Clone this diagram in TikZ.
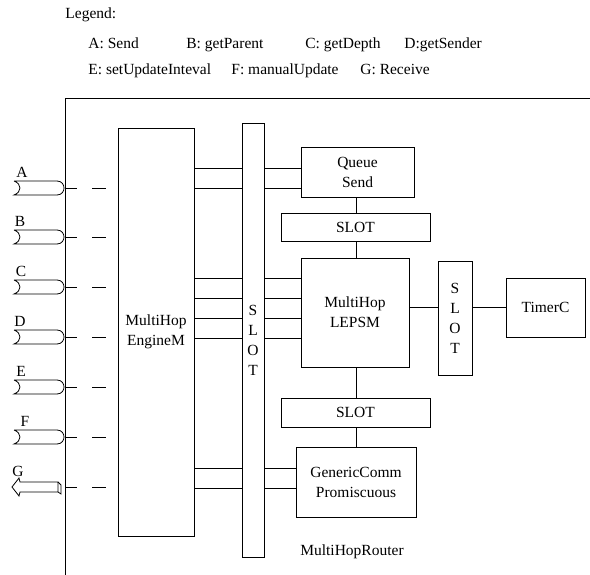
\documentclass[tikz,border=0pt]{standalone}
\usepackage{fontspec}
\setmainfont{Liberation Serif}
\begin{document}
\begin{tikzpicture}[x=1pt,y=-1pt,line width=0.8pt,
  txt/.style={font=\fontsize{15.5}{20}\selectfont, inner sep=0pt},
  box/.style={draw, txt, align=center, inner sep=0pt},
  lab/.style={txt, anchor=base west}]
\useasboundingbox (0,0) rectangle (590,575);
% legend
\node[lab] (leg) at (65,19) {Legend:};
\node[lab] (la) at (88,49) {A: Send};
\node[lab] (lb) at (186,49) {B: getParent};
\node[lab] (lc) at (305,49) {C: getDepth};
\node[lab] (ld) at (404,49) {D:getSender};
\node[lab] (le) at (88,75) {E: setUpdateInteval};
\node[lab] (lf) at (231,75) {F: manualUpdate};
\node[lab] (lg) at (360,75) {G: Receive};
% frame
\draw (65,575) -- (65,98) -- (590,98);
% boxes
\node[box, minimum width=76pt, minimum height=408pt] (eng) at (156,332) {MultiHop\\EngineM};
\node[box, minimum width=22pt, minimum height=434pt] (vslot) at (253,340) {S\\L\\O\\T};
\node[box, minimum width=113pt, minimum height=50pt] (qs) at (357.5,172) {Queue\\Send};
\node[box, minimum width=149pt, minimum height=28pt] (slot1) at (355.5,227) {SLOT};
\node[box, minimum width=108pt, minimum height=109pt] (lep) at (355,312.5) {MultiHop\\LEPSM};
\node[box, minimum width=149pt, minimum height=29pt] (slot2) at (355.5,412.5) {SLOT};
\node[box, minimum width=120pt, minimum height=70pt] (gc) at (356,482) {GenericComm\\Promiscuous};
\node[box, minimum width=34pt, minimum height=114pt] (vslot2) at (455,318) {S\\L\\O\\T};
\node[box, minimum width=79pt, minimum height=59pt] (timer) at (545.5,307.5) {TimerC};
\node[txt] (router) at (352,552) {MultiHopRouter};
% engine to slot links
\foreach \yy in {168,188,278,298,318,338,468,488}
  \draw (eng.east |- 0,\yy) -- (vslot.west |- 0,\yy);
\foreach \yy in {168,188}
  \draw (vslot.east |- 0,\yy) -- (qs.west |- 0,\yy);
\foreach \yy in {278,298,318,338}
  \draw (vslot.east |- 0,\yy) -- (lep.west |- 0,\yy);
\foreach \yy in {468,488}
  \draw (vslot.east |- 0,\yy) -- (gc.west |- 0,\yy);
% vertical links
\draw (356,0 |- qs.south) -- (356,0 |- slot1.north);
\draw (356,0 |- slot1.south) -- (356,0 |- lep.north);
\draw (356,0 |- lep.south) -- (356,0 |- slot2.north);
\draw (356,0 |- slot2.south) -- (356,0 |- gc.north);
\draw (lep.east |- 0,307) -- (vslot2.west |- 0,307);
\draw (vslot2.east |- 0,307) -- (timer.west |- 0,307);
% interfaces
\foreach \L/\yy/\lx in {A/188/22,B/237/20,C/287/21,D/337/20,E/387/21,F/437/25}{
  \draw (14,\yy-7) -- (57,\yy-7) .. controls (62,\yy-7) and (64,\yy-3) .. (64,\yy)
        .. controls (64,\yy+3) and (62,\yy+7) .. (57,\yy+7) -- (14,\yy+7)
        .. controls (22,\yy+4) and (22,\yy-4) .. (14,\yy-7);
  \node[txt] at (\lx,\yy-16) {\L};
  \draw (65,\yy) -- (77,\yy);
  \draw (92,\yy) -- (106,\yy);
}
% G receive arrow
\draw (58,482) -- (20,482) -- (19,478) -- (12,487) -- (19,496) -- (20,492) -- (58,492) -- cycle;
\draw (58,482) -- (61,485) -- (61,494) -- (58,492);
\node[txt] (glab) at (18,471) {G};
\draw (65,487) -- (77,487);
\draw (92,487) -- (106,487);
\end{tikzpicture}
\end{document}
